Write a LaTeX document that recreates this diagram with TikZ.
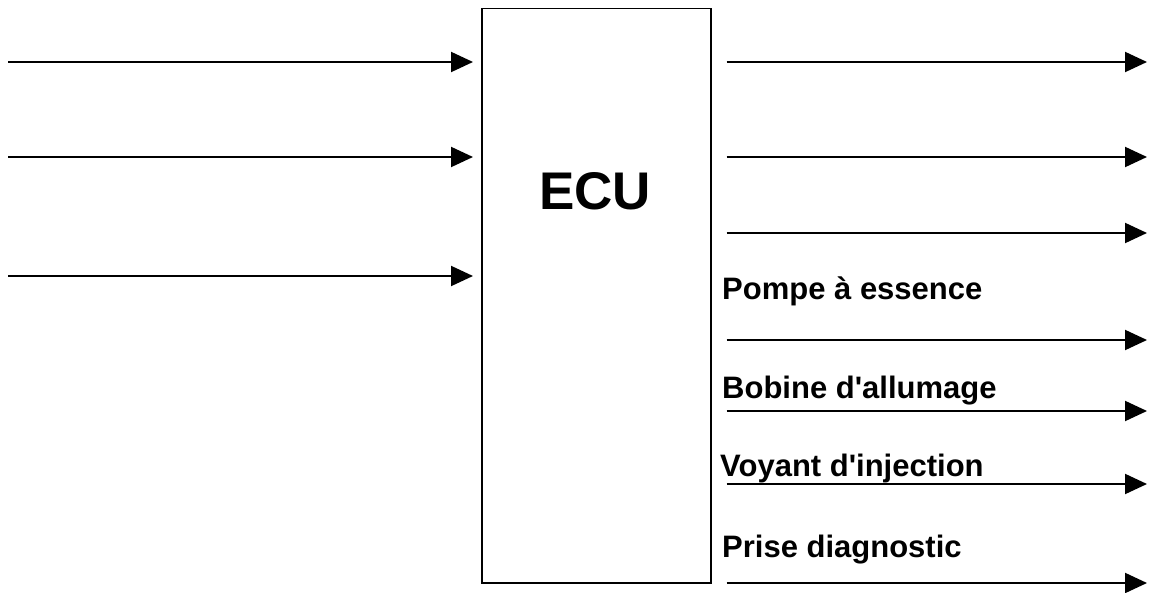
\documentclass[tikz,border=0pt]{standalone}
\usepackage{fontspec}
\setmainfont{Liberation Sans}
\usetikzlibrary{arrows.meta}

\begin{document}
\begin{tikzpicture}[x=1pt, y=-1pt,
    wire/.style={line width=2pt, -{Triangle[length=22pt,width=20pt]}},
    lbl/.style={anchor=base west, inner sep=0pt, font=\fontsize{31}{31}\selectfont\bfseries}]
    \useasboundingbox (0,0) rectangle (1156,593);
    \node[draw, line width=1.5pt, inner sep=0pt, anchor=north west,
          minimum width=229pt, minimum height=574pt] (ecu) at (481,8) {};
    \node[font=\fontsize{53}{53}\selectfont\bfseries] (ecutxt) at (595,191) {ECU};
    % entrees
    \foreach \y [count=\i] in {62,157,276}
        {
            \coordinate (in\i) at (8,\y);
            \draw[wire, shorten >=8pt] (in\i) -- (in\i -| ecu.west);
        }
    % sorties
    \foreach \y [count=\i] in {62,157,233,340,411,484,583}
        {
            \coordinate (out\i) at (1147,\y);
            \draw[wire, shorten <=15pt] (out\i -| ecu.east) -- (out\i);
        }
    \node[lbl] (pompe) at (722,300) {Pompe à essence};
    \node[lbl] (bobine) at (722,398) {Bobine d\textquotesingle allumage};
    \node[lbl] (voyant) at (720,476) {Voyant d\textquotesingle injection};
    \node[lbl] (prise) at (722,557) {Prise diagnostic};
\end{tikzpicture}
\end{document}
